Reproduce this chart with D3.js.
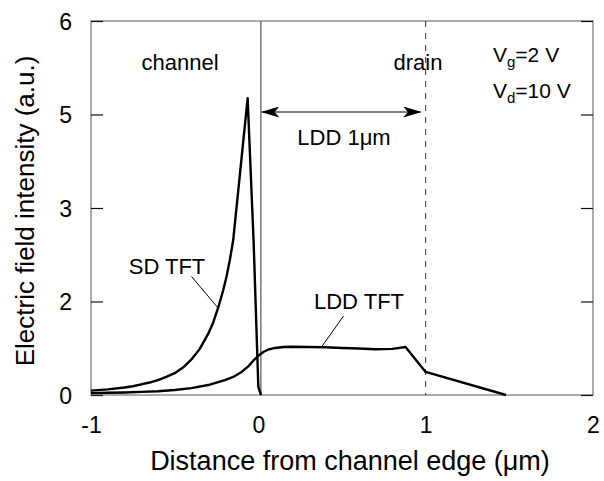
<!DOCTYPE html>
<html>
<head>
<meta charset="utf-8">
<script src="https://cdn.jsdelivr.net/npm/d3@7"></script>
<style>
  html, body { margin: 0; padding: 0; background: #fff; }
  svg { display: block; }
  text { font-family: "Liberation Sans", Arial, Helvetica, sans-serif; fill: #000; }
</style>
</head>
<body>
<svg id="chart" width="604" height="481"></svg>
<script>
// ---------- data ----------
const sdX   = [-1, -0.9, -0.8, -0.75, -0.7, -0.65, -0.6, -0.55, -0.5, -0.45, -0.4, -0.35, -0.3, -0.27, -0.24, -0.21, -0.19, -0.17, -0.15, -0.064, -0.028, 0.0, 0.016];
const sdY   = [0.07, 0.09, 0.12, 0.14, 0.17, 0.20, 0.24, 0.29, 0.35, 0.44, 0.57, 0.74, 0.98, 1.16, 1.40, 1.68, 1.90, 2.17, 2.49, 4.76, 2.45, 0.13, 0.0];
const lddX  = [-1, -0.9, -0.8, -0.7, -0.6, -0.5, -0.4, -0.3, -0.25, -0.2, -0.15, -0.1, -0.06, -0.03, 0.0, 0.03, 0.06, 0.1, 0.15, 0.2, 0.3, 0.4, 0.5, 0.6, 0.7, 0.8, 0.88, 0.96, 1.0, 1.48];
const lddY  = [0.03, 0.035, 0.04, 0.05, 0.06, 0.08, 0.11, 0.16, 0.20, 0.24, 0.29, 0.37, 0.46, 0.55, 0.63, 0.69, 0.73, 0.755, 0.77, 0.775, 0.77, 0.765, 0.755, 0.745, 0.735, 0.74, 0.77, 0.50, 0.37, 0.0];
const xTickValues = [-1, 0, 1, 2];
const xTickLabels = ["-1", "0", "1", "2"];
const yTickValues = [0, 1.5, 3, 4.5, 6];
const yTickLabels = ["0", "2", "3", "5", "6"];
const channelEdge = 0.015;
const drainEdge = 1.0;
const arrowLevel = 4.54;

// ---------- layout ----------
const svg = d3.select("#chart");
const x = d3.scaleLinear().domain([-1, 2]).range([91, 593]);
const y = d3.scaleLinear().domain([0, 6]).range([395, 21]);

// frame
svg.append("rect")
  .attr("x", x(-1)).attr("y", y(6))
  .attr("width", x(2) - x(-1)).attr("height", y(0) - y(6))
  .attr("fill", "none").attr("stroke", "#555").attr("stroke-width", 1);

// y axis left (ticks inward)
const yAxisL = d3.axisRight(y).tickValues(yTickValues).tickSize(12)
  .tickFormat((d, i) => yTickLabels[i]);
const gL = svg.append("g").attr("transform", `translate(${x(-1)},0)`).call(yAxisL);
gL.select(".domain").remove();
gL.selectAll(".tick line").attr("stroke", "#111").attr("stroke-width", 1.2);
gL.selectAll(".tick text").attr("x", -19).attr("text-anchor", "end")
  .attr("dy", "0.36em").style("font-size", "23px")
  .style("font-family", '"Liberation Sans", Arial, sans-serif');

// y axis right
const yAxisR = d3.axisLeft(y).tickValues(yTickValues).tickSize(12).tickFormat("");
const gR = svg.append("g").attr("transform", `translate(${x(2)},0)`).call(yAxisR);
gR.select(".domain").remove();
gR.selectAll(".tick line").attr("stroke", "#111").attr("stroke-width", 1.2);

// x axis labels (no visible ticks)
const xAxis = d3.axisBottom(x).tickValues(xTickValues).tickSize(0)
  .tickFormat((d, i) => xTickLabels[i]);
const gX = svg.append("g").attr("transform", `translate(0,${y(0)})`).call(xAxis);
gX.select(".domain").remove();
gX.selectAll(".tick text").attr("y", 38).attr("dy", 0)
  .style("font-size", "23px")
  .style("font-family", '"Liberation Sans", Arial, sans-serif');

// channel edge line and drain dashed line
svg.append("line")
  .attr("x1", x(channelEdge)).attr("x2", x(channelEdge))
  .attr("y1", y(6)).attr("y2", y(0))
  .attr("stroke", "#777").attr("stroke-width", 1.5);
svg.append("line")
  .attr("x1", x(drainEdge)).attr("x2", x(drainEdge))
  .attr("y1", y(6)).attr("y2", y(0))
  .attr("stroke", "#333").attr("stroke-width", 1).attr("stroke-dasharray", "6,6");

// arrow
const defs = svg.append("defs");
defs.append("marker").attr("id", "ahead").attr("viewBox", "0 0 20 12")
  .attr("refX", 19).attr("refY", 6).attr("markerWidth", 20).attr("markerHeight", 11)
  .attr("markerUnits", "userSpaceOnUse").attr("orient", "auto-start-reverse")
  .append("path").attr("d", "M0,0 L20,6 L0,12 L5,6 Z").attr("fill", "#000");
svg.append("line")
  .attr("x1", x(channelEdge) + 1).attr("x2", x(drainEdge) - 5)
  .attr("y1", y(arrowLevel)).attr("y2", y(arrowLevel))
  .attr("stroke", "#000").attr("stroke-width", 1.2)
  .attr("marker-start", "url(#ahead)").attr("marker-end", "url(#ahead)");

// curves
const line = d3.line().x(d => x(d[0])).y(d => y(d[1])).curve(d3.curveLinear);
svg.append("path").datum(sdX.map((v, i) => [v, sdY[i]]))
  .attr("d", line).attr("fill", "none").attr("stroke", "#000").attr("stroke-width", 2.4)
  .attr("stroke-linejoin", "round");
svg.append("path").datum(lddX.map((v, i) => [v, lddY[i]]))
  .attr("d", line).attr("fill", "none").attr("stroke", "#000").attr("stroke-width", 2.4)
  .attr("stroke-linejoin", "round");

// leader lines
svg.append("line").attr("x1", 191.5).attr("y1", 276.5).attr("x2", 218.5).attr("y2", 308.5)
  .attr("stroke", "#000").attr("stroke-width", 1);
svg.append("line").attr("x1", 343.5).attr("y1", 316).attr("x2", 321.5).attr("y2", 347)
  .attr("stroke", "#000").attr("stroke-width", 1);

// labels
function label(txt, px, py, size, anchor) {
  return svg.append("text").attr("x", px).attr("y", py)
    .attr("text-anchor", anchor || "middle").style("font-size", size + "px").text(txt);
}
label("channel", 180, 70, 22);
label("drain", 418, 70, 22);
label("LDD 1\u03BCm", 344, 145, 22);
label("SD TFT", 167, 274, 22);
label("LDD TFT", 359, 309, 22);

const vg = svg.append("text").attr("x", 493).attr("y", 62).style("font-size", "21px");
vg.append("tspan").text("V");
vg.append("tspan").attr("dy", 5).style("font-size", "15px").text("g");
vg.append("tspan").attr("dy", -5).text("=2 V");
const vd = svg.append("text").attr("x", 493).attr("y", 98).style("font-size", "21px");
vd.append("tspan").text("V");
vd.append("tspan").attr("dy", 5).style("font-size", "15px").text("d");
vd.append("tspan").attr("dy", -5).text("=10 V");

// axis titles
label("Distance from channel edge (\u03BCm)", 350, 470, 27);
svg.append("text").attr("transform", "translate(34,211) rotate(-90)")
  .attr("text-anchor", "middle").style("font-size", "26px")
  .text("Electric field intensity (a.u.)");
</script>
</body>
</html>
